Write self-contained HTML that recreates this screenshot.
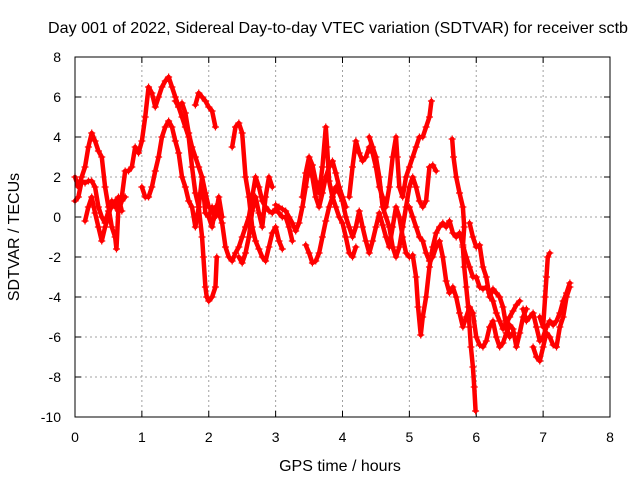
<!DOCTYPE html>
<html><head><meta charset="utf-8"><style>
html,body{margin:0;padding:0;background:#fff;}
svg{display:block;font-family:"Liberation Sans",sans-serif;}
</style></head><body>
<svg id="chart" width="640" height="480" viewBox="0 0 640 480">
<rect width="640" height="480" fill="#fff"/>
<g id="grid"></g>
<g id="ticks"></g>
<g id="points"></g>
<rect x="75" y="57" width="535" height="360" fill="none" stroke="#000" stroke-width="1"/>
<text x="48" y="33" font-size="16" textLength="580" lengthAdjust="spacingAndGlyphs">Day 001 of 2022, Sidereal Day-to-day VTEC variation (SDTVAR) for receiver sctb</text>
<text x="340" y="471" font-size="16" text-anchor="middle">GPS time / hours</text>
<text x="0" y="0" font-size="16" text-anchor="middle" transform="translate(19,237) rotate(-90)">SDTVAR / TECUs</text>
</svg>
<script>
const xTicks=[0,1,2,3,4,5,6,7,8];
const yTicks=[8,6,4,2,0,-2,-4,-6,-8,-10];
const T1=[[0,2.0],[0.05,1.5],[0.1,2],[0.15,2.5],[0.2,3.5],[0.25,4.2],[0.3,3.8],[0.35,3.3],[0.4,3.0],[0.45,1.5],[0.5,0.5],[0.55,-0.5],[0.6,-1],[0.62,-1.6],[0.65,0.5],[0.7,1.0],[0.75,2.3],[0.8,2.3],[0.85,2.5],[0.9,3.5],[0.95,3.2],[1.0,3.8],[1.05,5],[1.1,6.5],[1.15,6.2],[1.2,5.5],[1.25,6],[1.3,6.5],[1.35,6.8],[1.4,7.0],[1.45,6.5],[1.5,6.0],[1.55,5.5],[1.6,5.0],[1.65,4.5],[1.7,4.0],[1.75,2.5],[1.8,1.2],[1.85,0.5],[1.9,-1],[1.92,-2],[1.95,-3.5],[1.97,-4],[2.0,-4.2],[2.05,-4],[2.1,-3.5],[2.12,-2]];
const T2=[[0,0.8],[0.05,1.0],[0.1,1.8],[0.15,1.7],[0.2,1.8],[0.25,1.8],[0.3,1.5],[0.35,0.5],[0.4,0],[0.45,-0.3],[0.5,0.3],[0.55,0.5],[0.6,0.8],[0.65,0.3],[0.7,0.8],[0.75,1.0]];
const T3=[[0.15,-0.2],[0.2,0.5],[0.25,1],[0.3,0.2],[0.35,-0.5],[0.4,-1.2],[0.45,-0.5],[0.5,0],[0.55,0.8],[0.6,0.5],[0.65,1],[0.7,0.3]];
const T4=[[1.0,1.5],[1.05,1.0],[1.1,1.0],[1.15,1.5],[1.2,2.3],[1.25,3],[1.3,4],[1.35,4.5],[1.4,4.8],[1.45,4.5],[1.5,3.8],[1.55,3.2],[1.6,2.0],[1.65,1.5],[1.7,0.8],[1.75,0.5],[1.8,-0.5],[1.85,0.5],[1.9,2.0],[1.95,0.2],[2.0,0.0],[2.05,0.5],[2.1,0],[2.15,1],[2.2,0]];
const T5=[[1.5,5.8],[1.55,5.5],[1.6,5.7],[1.65,5.2],[1.7,4.2],[1.75,3.5],[1.8,3.0],[1.85,2.5],[1.9,2.0],[1.95,1.2],[2.0,0.5]];
const T6=[[1.8,5.6],[1.85,6.2],[1.9,6.0],[1.95,5.8],[2.0,5.5],[2.05,5.3],[2.1,4.5]];
const T7=[[2.0,0],[2.05,-0.5],[2.1,0.5],[2.15,0.2],[2.2,-0.3],[2.25,-1.5],[2.3,-2],[2.35,-2.2],[2.4,-1.8],[2.45,-1.5],[2.5,-1.0],[2.55,-0.5],[2.6,0],[2.65,1.0],[2.7,2.0],[2.75,1.5],[2.8,0.8],[2.85,0.5],[2.9,0.3],[2.95,0.2],[3.0,0.4],[3.05,0.2],[3.1,0],[3.15,0],[3.2,-0.5],[3.25,-1.2]];
const T8=[[2.35,3.5],[2.4,4.5],[2.45,4.7],[2.5,4.2],[2.55,2.0],[2.6,1.0],[2.65,-0.5],[2.7,-1.2],[2.75,-1.6],[2.8,-2.0],[2.85,-2.2],[2.9,-1.5],[2.95,-0.8],[3.0,-0.5],[3.05,-1.2],[3.1,-1.6]];
const T9=[[2.45,-2.0],[2.5,-2.3],[2.55,-1.8],[2.6,-1.0],[2.65,0.3],[2.7,1.0],[2.75,0.2],[2.8,-0.5],[2.85,1.0],[2.9,2.0],[2.95,1.5]];
const T10=[[3.0,0.6],[3.05,0.5],[3.1,0.4],[3.15,0.3],[3.2,0.0],[3.25,-0.3],[3.3,-0.7],[3.35,-0.3],[3.4,0.5],[3.45,1.5],[3.5,2.6],[3.55,2.0],[3.6,1.0],[3.65,0.5],[3.7,1.2],[3.75,2.0],[3.8,2.5],[3.85,2.8],[3.9,2.2],[3.95,1.5],[4.0,1.0],[4.05,0.5]];
const T11=[[3.4,1.0],[3.45,2.2],[3.5,3.0],[3.55,2.6],[3.6,1.8],[3.65,1.2],[3.7,2.5],[3.75,4.5],[3.77,3.5],[3.8,1.8],[3.85,1.0],[3.9,0.5],[3.95,0],[4.0,-0.3],[4.05,-1.0],[4.1,-1.8],[4.15,-2.0],[4.2,-1.5]];
const T12=[[3.45,-1.4],[3.5,-1.8],[3.55,-2.3],[3.6,-2.2],[3.65,-1.8],[3.7,-1.0],[3.75,-0.2],[3.8,0.5],[3.85,1.0],[3.9,1.5],[3.95,1.2],[4.0,0.8],[4.05,0],[4.1,-0.5],[4.15,-1.0],[4.2,-0.5],[4.25,0.3],[4.3,-0.5],[4.35,-1.2],[4.4,-1.8],[4.45,-1.2],[4.5,-0.5],[4.55,0.2],[4.6,-0.4],[4.65,-1.0],[4.7,-1.5],[4.75,-0.5],[4.8,0.5],[4.85,0],[4.9,-1.0],[4.95,-1.8],[5.0,-2.0]];
const T13=[[4.1,1.0],[4.15,2.5],[4.2,3.8],[4.25,3.2],[4.3,2.8],[4.35,3.0],[4.4,3.5],[4.45,3.2],[4.5,2.5],[4.55,1.5],[4.6,1.0],[4.65,0.5],[4.7,1.5],[4.75,3.0],[4.8,4.0],[4.82,3.0],[4.85,1.5],[4.9,1.0],[4.95,2.0],[5.0,2.5],[5.05,3.0],[5.1,3.5],[5.15,4.0],[5.2,4.0],[5.25,4.5],[5.3,5.0],[5.33,5.8]];
const T14=[[4.4,4.0],[4.45,3.5],[4.5,3.0],[4.55,2.0],[4.6,0.5],[4.65,0],[4.7,-0.5],[4.75,-1.5],[4.8,-2.0],[4.85,-1.5],[4.9,-0.5],[4.95,0.5],[5.0,1.5],[5.05,2.0],[5.1,1.5],[5.15,0.8],[5.2,0.5],[5.25,0.8],[5.3,2.5],[5.35,2.6],[5.4,2.3]];
const T15=[[5.05,-1.9],[5.1,-3.0],[5.13,-4.5],[5.17,-5.9],[5.2,-5.0],[5.25,-4.0],[5.3,-2.5],[5.35,-1.5],[5.4,-0.8],[5.45,-0.5],[5.5,-0.3],[5.55,-0.5],[5.6,-0.2],[5.65,-0.8],[5.7,-1.0],[5.75,-0.8],[5.8,-1.4],[5.85,-2.0],[5.9,-2.5],[5.95,-3.0],[6.0,-3.0],[6.05,-3.5],[6.1,-3.6],[6.15,-3.5],[6.2,-3.8],[6.25,-4.2],[6.3,-4.8],[6.35,-5.2],[6.4,-5.6],[6.45,-5.3],[6.5,-5.0],[6.55,-4.7],[6.6,-4.4],[6.65,-4.2]];
const T16=[[5.0,0.5],[5.05,0.0],[5.1,-0.5],[5.15,-1.0],[5.2,-1.2],[5.25,-1.8],[5.3,-2.2],[5.35,-2.0],[5.4,-1.5],[5.45,-1.2],[5.5,-2.0],[5.55,-3.2],[5.6,-3.8],[5.65,-3.5],[5.7,-4.0],[5.75,-4.8],[5.8,-5.5],[5.85,-5.0],[5.9,-4.5],[5.95,-4.8],[6.0,-6.0],[6.05,-6.4],[6.1,-6.5],[6.15,-6.2],[6.2,-5.5],[6.25,-5.2],[6.3,-6.0],[6.35,-6.5],[6.4,-6.3],[6.45,-5.8],[6.5,-5.4],[6.55,-5.6],[6.6,-6.5],[6.65,-5.8],[6.7,-5.0],[6.75,-4.6]];
const T17=[[5.64,3.9],[5.66,3.0],[5.7,2.0],[5.75,1.2],[5.8,0.5],[5.82,-0.5],[5.8,-1.5],[5.82,-2.5],[5.85,-3.5],[5.88,-4.5],[5.9,-5.5],[5.92,-6.5],[5.95,-7.5],[5.97,-8.5],[5.99,-9.7]];
const T18=[[6.85,-6.5],[6.9,-7.0],[6.95,-7.2],[7.0,-6.5],[7.05,-5.8],[7.1,-6.0],[7.15,-6.4],[7.2,-6.5],[7.25,-5.5],[7.3,-5.0],[7.35,-4.0],[7.4,-3.5]];
const T19=[[6.95,-5.0],[7.0,-5.5],[7.03,-4.0],[7.05,-3.0],[7.07,-2.0],[7.1,-1.8]];
const T20=[[6.7,-4.6],[6.75,-5.2],[6.8,-5.0],[6.85,-4.8],[6.9,-5.5],[6.95,-6.2],[7.0,-6.0],[7.05,-5.5],[7.1,-5.2],[7.15,-5.4],[7.2,-5.2],[7.25,-4.8],[7.3,-4.2],[7.35,-3.8],[7.4,-3.3]];
const T21=[[5.9,-0.3],[5.95,-1.0],[6.0,-1.5],[6.05,-1.4],[6.1,-2.5],[6.15,-3.0],[6.2,-4.0],[6.25,-3.6],[6.3,-3.8],[6.35,-4.0],[6.4,-4.5],[6.45,-5.5],[6.5,-6.0],[6.55,-5.8]];
const tracks=[T1,T2,T3,T4,T5,T6,T7,T8,T9,T10,T11,T12,T13,T14,T15,T16,T17,T18,T19,T20,T21];

const NS='http://www.w3.org/2000/svg';
const X0=75,X1=610,Y0=417,Y1=57;
function xs(t){return X0+(t-0)/(8-0)*(X1-X0);}
function ys(v){return Y0-(v+10)/(8+10)*(Y0-Y1);}
function mk(tag,attrs,parent){const e=document.createElementNS(NS,tag);for(const k in attrs)e.setAttribute(k,attrs[k]);parent.appendChild(e);return e;}
const grid=document.getElementById('grid'),ticks=document.getElementById('ticks'),pts=document.getElementById('points');
xTicks.forEach(t=>{
  const x=xs(t);
  if(t>0&&t<8){const g=mk('line',{x1:x,x2:x,y1:Y0,y2:Y1,stroke:'#a0a0a0','stroke-dasharray':'2,3'},grid);
  
  }
  const tk=mk('path',{d:`M${x},${Y0}v-6M${x},${Y1}v6`,stroke:'#000'},ticks);
  
  
  const lb=mk('text',{x:x,y:442,'font-size':14,'text-anchor':'middle'},ticks);
  lb.textContent=t;
  
  
});
yTicks.forEach(v=>{
  const y=ys(v);
  if(v>-10&&v<8){const g=mk('line',{x1:X0,x2:X1,y1:y,y2:y,stroke:'#a0a0a0','stroke-dasharray':'2,3'},grid);
  
  }
  const tk=mk('path',{d:`M${X0},${y}h6M${X1},${y}h-6`,stroke:'#000'},ticks);
  
  
  const lb=mk('text',{x:61,y:y+5,'font-size':14,'text-anchor':'end'},ticks);
  lb.textContent=v;
  
  
});
tracks.forEach(tr=>{
  const line=mk('polyline',{points:tr.map(p=>xs(p[0])+','+ys(p[1])).join(' '),stroke:'#ff0000','stroke-width':4.5,fill:'none','stroke-linejoin':'round','stroke-linecap':'round'},pts);
  
  
  let d='';
  tr.forEach(p=>{const x=xs(p[0]),y=ys(p[1]);d+=`M${x-3.5},${y}h7M${x},${y-3.5}v7`;});
  const path=mk('path',{d:d,stroke:'#ff0000','stroke-width':1.2,fill:'none'},pts);
  
  
});
</script>
</body></html>
